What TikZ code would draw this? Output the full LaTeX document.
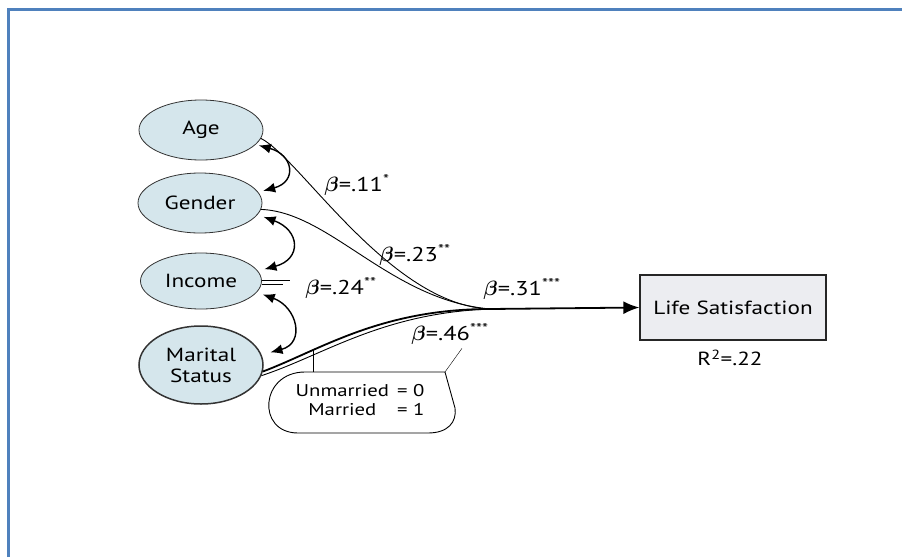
\documentclass[tikz,border=0pt]{standalone}
\usepackage{amsmath}
\usepackage{fontspec}
\setmainfont{PT Sans}[FakeStretch=1.22]
\usepackage{tikz}
\usetikzlibrary{arrows.meta,shapes.geometric}
\definecolor{frameblue}{HTML}{4F81BD}
\definecolor{varfill}{HTML}{D5E6EC}
\definecolor{boxfill}{HTML}{ECEDF1}
\begin{document}
\begin{tikzpicture}[x=1pt,y=-1pt,
  var/.style={ellipse,draw=black!80,fill=varfill,line width=0.8pt,minimum width=124pt,minimum height=60pt,inner sep=0pt,font=\fontsize{19}{21}\selectfont},
  outcome/.style={rectangle,draw=black!85,fill=boxfill,line width=1.3pt,minimum width=186pt,minimum height=65pt,font=\fontsize{19}{21}\selectfont},
  corr/.style={{Latex[length=12pt,width=10pt]}-{Latex[length=12pt,width=10pt]},line width=1.4pt},
  pathline/.style={line width=0.9pt},
  coef/.style={font=\fontsize{20}{22}\selectfont}]
\useasboundingbox (0,0) rectangle (902,557);
\draw[frameblue,line width=2.2pt] (8.5,557) -- (8.5,9.5) -- (902,9.5);
\node[var] (age) at (201,130) {Age};
\node[var] (gender) at (200,203) {Gender};
\node[var,minimum width=121pt,minimum height=56pt] (income) at (201,281) {Income};
\node[var,minimum height=78pt,line width=1.5pt,align=center] (marital) at (201,365) {Marital\\Status};
\node[outcome] (ls) at (733,307.5) {Life Satisfaction};
\node[font=\fontsize{19}{21}\selectfont] (rsq) at (730,358) {R\textsuperscript{2}=.22};
\coordinate (m) at (490,309);
\draw[pathline] (age.-8) .. controls (300,158) and (390,305) .. (m);
\draw[pathline] (gender.-6) .. controls (330,212) and (390,300) .. (m);
\draw[line width=1.8pt] (marital.-6) .. controls (320,350) and (380,309) .. (m);
\draw[pathline] (marital.-10) .. controls (324,355) and (382,313) .. (m);
\draw[line width=1.8pt,-{Latex[length=16pt,width=13pt]}] (m) -- (ls.west);
\draw[pathline] ([yshift=1pt]income.east) -- +(28,0);
\draw[pathline] ([yshift=-3pt]income.east) -- +(21,0);
\draw[corr] ([xshift=4pt]age.-16) to[out=-15,in=15,looseness=2] ([xshift=6pt]gender.12);
\draw[corr] ([xshift=8pt]gender.-14) to[out=-20,in=15,looseness=1.9] ([xshift=8pt]income.12);
\draw[corr] ([xshift=8pt]income.-14) to[out=-20,in=15,looseness=1.6] ([xshift=10pt]marital.12);
\node[coef] (b1) at (357,185) {$\boldsymbol{\beta}$=.11\textsuperscript{*}};
\node[coef] (b2) at (415,255) {$\boldsymbol{\beta}$=.23\textsuperscript{**}};
\node[coef] (b3) at (341,288) {$\boldsymbol{\beta}$=.24\textsuperscript{**}};
\node[coef] (b4) at (522,289) {$\boldsymbol{\beta}$=.31\textsuperscript{***}};
\node[coef] (b5) at (450,334) {$\boldsymbol{\beta}$=.46\textsuperscript{***}};
\draw[line width=0.9pt] (445,372) -- (305,372) .. controls (260,372) and (256,433) .. (298,433) -- (428,433) .. controls (448,433) and (457,422) .. (455,408) -- cycle;
\node[font=\fontsize{17}{19}\selectfont] (coding) at (360,402) {\begin{tabular}{@{}c@{\hspace{8pt}}r@{}}Unmarried & = 0\\ Married & = 1\end{tabular}};
\coordinate (tagm) at (313,350);
\coordinate (tagb) at (313,372);
\coordinate (tagc) at (445,372);
\draw[thin] (tagb) -- (tagm);
\draw[thin] (tagc) -- ([xshift=12pt]b5.south);
\end{tikzpicture}
\end{document}
